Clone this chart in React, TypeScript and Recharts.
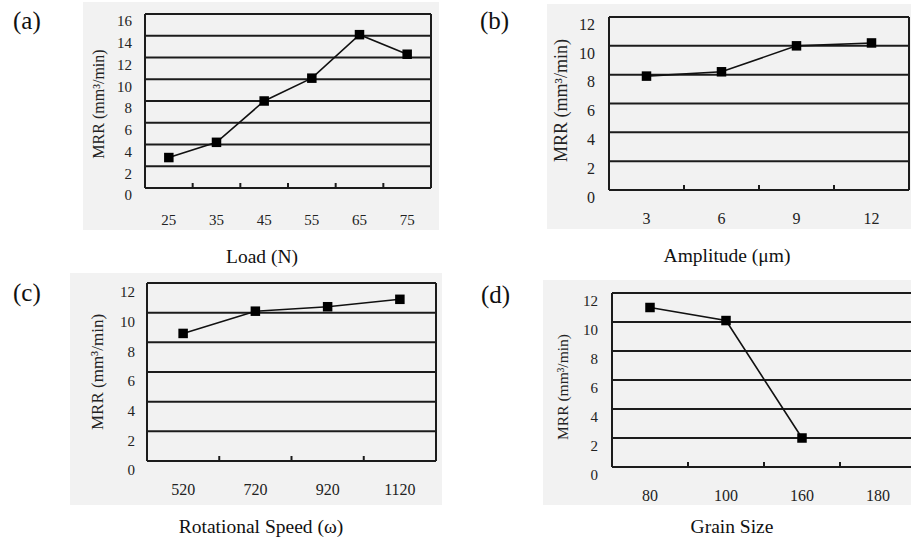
import React from "react";
import { LineChart, Line, XAxis, YAxis, CartesianGrid } from "recharts";

// (a) load
const loadCats = ["25", "35", "45", "55", "65", "75"];
const loadMrr = [2.8, 4.2, 8.0, 10.1, 14.1, 12.3];
const loadTicks = [0, 2, 4, 6, 8, 10, 12, 14, 16];

// (b) amplitude
const ampCats = ["3", "6", "9", "12"];
const ampMrr = [7.9, 8.2, 10.0, 10.2];

// (c) rotational speed
const speedCats = ["520", "720", "920", "1120"];
const speedMrr = [8.6, 10.1, 10.4, 10.9];

// (d) grain size
const grainCats = ["80", "100", "160", "180"];
const grainMrr: (number | null)[] = [11.0, 10.1, 2.0, null];

const mrrTicks = [0, 2, 4, 6, 8, 10, 12];

const SERIF = "'Liberation Serif', 'Times New Roman', serif";
const INK = "#1c1c1c";
const PAPER = "#f2f2f2";

type Box = { x: number; y: number; w: number; h: number };
type Plot = { x1: number; x2: number; y1: number; y2: number };

type PanelCfg = {
  tag: string;
  tagX: number;
  tagY: number;
  caption: string;
  capX: number;
  capY: number;
  bg: Box;
  plot: Plot;
  labX: number;
  labDy: number;
  labFs: number;
  yGap: number;
  yDy: number;
  yFs: number;
  xGap: number;
  xFs: number;
};

function Panel({
  cfg,
  cats,
  vals,
  ticks,
}: {
  cfg: PanelCfg;
  cats: string[];
  vals: (number | null)[];
  ticks: number[];
}) {
  const { bg, plot } = cfg;
  const rows = cats.map((c, i) => ({ cat: c, mrr: vals[i] }));
  const n = cats.length;
  const chartW = Math.max(bg.w, plot.x2 - bg.x + 2);
  const yAxisW = plot.x1 - bg.x;
  const xAxisH = bg.h - (plot.y2 - bg.y);
  const half = (plot.x2 - plot.x1) / n / 2;

  const xTick = (props: any) => {
    const { x, y, payload, index } = props;
    const off =
      payload && typeof payload.offset === "number" && payload.offset > 0
        ? payload.offset
        : half;
    const base = y - cfg.xGap;
    return (
      <g>
        <text
          x={x}
          y={y}
          dy="0.71em"
          textAnchor="middle"
          fontFamily={SERIF}
          fontSize={cfg.xFs}
          fill="#222"
        >
          {payload.value}
        </text>
        {index < n - 1 && (
          <line
            x1={x + off}
            x2={x + off}
            y1={base}
            y2={base - 5}
            stroke={INK}
            strokeWidth={2}
          />
        )}
      </g>
    );
  };

  const square = (p: any) => {
    if (p.cx == null || p.cy == null || p.value == null)
      return <g key={"d" + p.index} />;
    return (
      <rect
        key={"d" + p.index}
        x={p.cx - 4.75}
        y={p.cy - 4.75}
        width={9.5}
        height={9.5}
        fill="#000"
      />
    );
  };

  return (
    <>
      <div
        style={{
          position: "absolute",
          left: bg.x,
          top: bg.y,
          width: bg.w,
          height: bg.h,
          overflow: "hidden",
          background: PAPER,
        }}
      >
        <LineChart
          width={chartW}
          height={bg.h}
          data={rows}
          margin={{ top: plot.y1 - bg.y, right: chartW - (plot.x2 - bg.x), bottom: 0, left: 0 }}
        >
          <CartesianGrid
            stroke={INK}
            strokeWidth={2}
            verticalCoordinatesGenerator={({ offset }: any) => [
              offset.left,
              offset.left + offset.width,
            ]}
          />
          <XAxis
            dataKey="cat"
            type="category"
            scale="band"
            height={xAxisH}
            interval={0}
            axisLine={false}
            tickLine={false}
            tickSize={0}
            tickMargin={cfg.xGap}
            tick={xTick}
          />
          <YAxis
            type="number"
            domain={[0, ticks[ticks.length - 1]]}
            ticks={ticks}
            interval={0}
            width={yAxisW}
            axisLine={{ stroke: INK, strokeWidth: 2 }}
            tickLine={false}
            tickSize={0}
            tickMargin={cfg.yGap}
            tick={{ fontFamily: SERIF, fontSize: cfg.yFs, fill: "#222", dy: cfg.yDy }}
            label={{
              value: "MRR (mm³/min)",
              angle: -90,
              position: "insideLeft",
              offset: cfg.labX - bg.x,
              dy: cfg.labDy,
              style: { textAnchor: "middle", fontFamily: SERIF, fontSize: cfg.labFs, fill: "#222" },
            }}
          />
          <Line
            type="linear"
            dataKey="mrr"
            stroke="#111"
            strokeWidth={1.6}
            dot={square}
            activeDot={false}
            connectNulls={false}
            isAnimationActive={false}
          />
        </LineChart>
      </div>
      <div
        style={{
          position: "absolute",
          left: cfg.tagX,
          top: cfg.tagY,
          fontFamily: SERIF,
          fontSize: 25,
          lineHeight: 1,
          color: "#111",
          whiteSpace: "nowrap",
        }}
      >
        {cfg.tag}
      </div>
      <div
        style={{
          position: "absolute",
          left: cfg.capX,
          top: cfg.capY,
          transform: "translateX(-50%)",
          fontFamily: SERIF,
          fontSize: 19.5,
          lineHeight: 1,
          color: "#111",
          whiteSpace: "nowrap",
        }}
      >
        {cfg.caption}
      </div>
    </>
  );
}

const panelA: PanelCfg = {
  tag: "(a)", tagX: 13, tagY: 8, caption: "Load (N)", capX: 262, capY: 247,
  bg: { x: 83, y: 2, w: 356, h: 228 },
  plot: { x1: 145, x2: 431, y1: 14, y2: 188 },
  labX: 98, labDy: 3, labFs: 16, yGap: 13, yDy: 7, yFs: 15, xGap: 26, xFs: 15,
};

const panelB: PanelCfg = {
  tag: "(b)", tagX: 480, tagY: 8, caption: "Amplitude (μm)", capX: 727, capY: 246,
  bg: { x: 547, y: 4, w: 364, h: 225 },
  plot: { x1: 609, x2: 909, y1: 17, y2: 190 },
  labX: 561, labDy: -3, labFs: 18, yGap: 14, yDy: 7, yFs: 16, xGap: 23, xFs: 16,
};

const panelC: PanelCfg = {
  tag: "(c)", tagX: 13, tagY: 280, caption: "Rotational Speed (ω)", capX: 261, capY: 517,
  bg: { x: 70, y: 273, w: 372, h: 232 },
  plot: { x1: 147, x2: 436, y1: 283, y2: 461 },
  labX: 97, labDy: 0, labFs: 17, yGap: 12, yDy: 9, yFs: 15, xGap: 23, xFs: 16,
};

const panelD: PanelCfg = {
  tag: "(d)", tagX: 481, tagY: 282, caption: "Grain Size", capX: 732, capY: 517,
  bg: { x: 543, y: 280, w: 368, h: 225 },
  plot: { x1: 612, x2: 916, y1: 293, y2: 467 },
  labX: 562, labDy: 7, labFs: 15.5, yGap: 14, yDy: 8, yFs: 15, xGap: 23, xFs: 16,
};

export default function App() {
  return (
    <div
      style={{
        position: "absolute",
        left: 0,
        top: 0,
        width: 911,
        height: 546,
        overflow: "hidden",
        background: "#fff",
      }}
    >
      <Panel cfg={panelA} cats={loadCats} vals={loadMrr} ticks={loadTicks} />
      <Panel cfg={panelB} cats={ampCats} vals={ampMrr} ticks={mrrTicks} />
      <Panel cfg={panelC} cats={speedCats} vals={speedMrr} ticks={mrrTicks} />
      <Panel cfg={panelD} cats={grainCats} vals={grainMrr} ticks={mrrTicks} />
    </div>
  );
}
